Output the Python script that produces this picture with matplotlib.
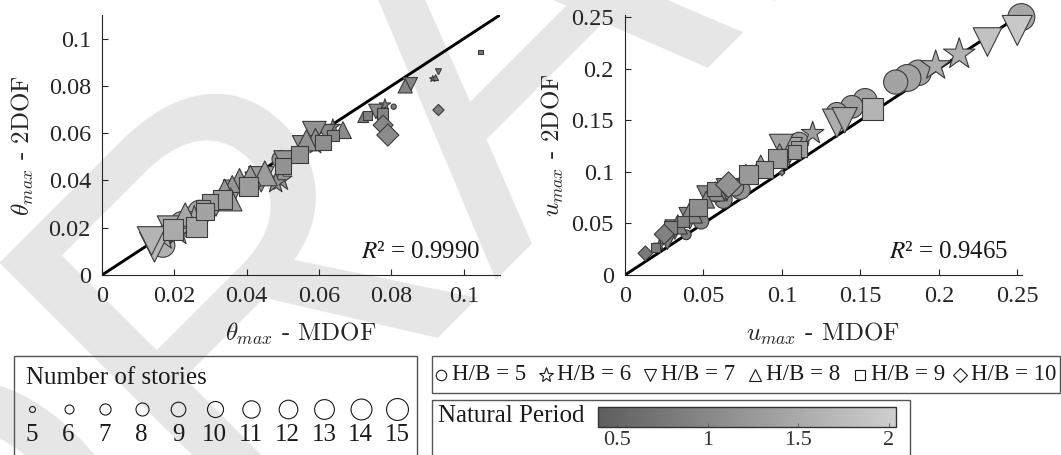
import matplotlib
matplotlib.use('Agg')
import matplotlib.pyplot as plt
import matplotlib.patches as mpatches
from matplotlib.colors import LinearSegmentedColormap, Normalize
from matplotlib.ticker import FuncFormatter
from matplotlib.colorbar import ColorbarBase

# ---------------- data ----------------
# left panel: maximum drift ratio theta
theta_mdof = [0.1046, 0.0930, 0.0914, 0.0922, 0.0930, 0.0838, 0.0852, 0.0782, 0.0806, 0.0757,
              0.0722, 0.0733, 0.0722, 0.0775, 0.0777, 0.0790, 0.0638, 0.0666, 0.0638, 0.0620,
              0.0587, 0.0590, 0.0610, 0.0590, 0.0559, 0.0545, 0.0494, 0.0505, 0.0500, 0.0494,
              0.0480, 0.0450, 0.0410, 0.0380, 0.0405, 0.0425, 0.0360, 0.0365, 0.0339, 0.0333,
              0.0355, 0.0298, 0.0280, 0.0270, 0.0243, 0.0261, 0.0285, 0.0230, 0.0190, 0.0196,
              0.0145, 0.0168, 0.0168, 0.0137, 0.0210, 0.0315, 0.0565, 0.0220, 0.0255, 0.0440,
              0.0355]
theta_2dof = [0.0944, 0.0860, 0.0830, 0.0835, 0.0698, 0.0800, 0.0805, 0.0720, 0.0712, 0.0692,
              0.0668, 0.0675, 0.0660, 0.0683, 0.0634, 0.0592, 0.0627, 0.0613, 0.0590, 0.0600,
              0.0600, 0.0580, 0.0560, 0.0549, 0.0540, 0.0510, 0.0490, 0.0480, 0.0460, 0.0403,
              0.0389, 0.0430, 0.0420, 0.0410, 0.0375, 0.0390, 0.0385, 0.0356, 0.0365, 0.0320,
              0.0320, 0.0308, 0.0290, 0.0265, 0.0214, 0.0204, 0.0270, 0.0256, 0.0193, 0.0193,
              0.0118, 0.0164, 0.0126, 0.0144, 0.0180, 0.0290, 0.0570, 0.0220, 0.0240, 0.0405,
              0.0345]
theta_hb = [9, 7, 6, 8, 10, 8, 7, 6, 5, 7,
            8, 9, 6, 9, 10, 10, 6, 8, 9, 7,
            7, 8, 9, 6, 7, 9, 5, 7, 9, 6,
            6, 8, 8, 8, 9, 7, 8, 7, 8, 9,
            8, 9, 9, 5, 5, 9, 9, 8, 7, 9,
            7, 6, 5, 7, 6, 7, 8, 5, 6, 7,
            6]
theta_stories = [5, 5, 5, 5, 6, 7, 7, 6, 5, 7,
                 6, 6, 5, 7, 9, 10, 7, 8, 7, 8,
                 11, 9, 9, 8, 11, 10, 9, 10, 9, 10,
                 9, 12, 10, 9, 11, 10, 8, 10, 9, 11,
                 11, 9, 8, 13, 14, 12, 10, 11, 13, 12,
                 15, 13, 13, 14, 12, 9, 10, 12, 11, 12,
                 10]
theta_period = [0.75, 0.80, 0.80, 0.80, 0.85, 0.95, 0.95, 0.90, 0.80, 1.00,
                0.90, 0.90, 0.85, 0.95, 1.00, 1.05, 1.00, 1.05, 1.00, 1.05,
                1.15, 1.10, 1.10, 1.10, 1.20, 1.15, 1.15, 1.20, 1.15, 1.20,
                1.20, 1.30, 1.25, 1.20, 1.30, 1.25, 1.20, 1.30, 1.25, 1.35,
                1.35, 1.30, 1.30, 1.50, 1.55, 1.45, 1.40, 1.45, 1.55, 1.50,
                1.70, 1.60, 1.60, 1.65, 1.50, 1.30, 1.15, 1.50, 1.45, 1.30,
                1.30]

# right panel: maximum roof displacement u
u_mdof = [0.2526, 0.2500, 0.2310, 0.2130, 0.1980, 0.1870, 0.1800, 0.1725, 0.1530, 0.1446,
          0.1350, 0.1577, 0.1350, 0.1400, 0.1196, 0.1000, 0.1110, 0.1050, 0.0995, 0.1110,
          0.0970, 0.0865, 0.0890, 0.0788, 0.0770, 0.0736, 0.0700, 0.0660, 0.0627, 0.0575,
          0.0520, 0.0517, 0.0565, 0.0465, 0.0485, 0.0420, 0.0413, 0.0390, 0.0336, 0.0290,
          0.0317, 0.0250, 0.0270, 0.0194, 0.0130, 0.0220, 0.0370, 0.0580, 0.0450, 0.0610,
          0.0985, 0.1080, 0.0650]
u_2dof = [0.2500, 0.2370, 0.2258, 0.2140, 0.2030, 0.1960, 0.1910, 0.1870, 0.1690, 0.1630,
          0.1570, 0.1610, 0.1470, 0.1500, 0.1375, 0.0990, 0.1290, 0.1210, 0.1250, 0.1220,
          0.1130, 0.1050, 0.1020, 0.0970, 0.0990, 0.0827, 0.0850, 0.0875, 0.0730, 0.0810,
          0.0770, 0.0730, 0.0830, 0.0654, 0.0520, 0.0615, 0.0550, 0.0390, 0.0490, 0.0460,
          0.0440, 0.0394, 0.0330, 0.0270, 0.0210, 0.0290, 0.0520, 0.0770, 0.0590, 0.0800,
          0.1170, 0.1190, 0.0830]
u_hb = [5, 7, 7, 6, 6, 5, 5, 5, 5, 5,
        5, 9, 7, 7, 6, 10, 5, 7, 7, 9,
        9, 8, 9, 9, 8, 5, 5, 10, 5, 8,
        7, 8, 9, 9, 5, 8, 7, 5, 8, 9,
        7, 10, 7, 9, 10, 6, 9, 5, 6, 6,
        8, 9, 7]
u_stories = [15, 15, 14, 15, 14, 14, 15, 13, 13, 12,
             11, 13, 14, 12, 10, 5, 10, 12, 11, 9,
             11, 11, 10, 11, 8, 10, 9, 12, 9, 9,
             9, 8, 8, 10, 8, 11, 10, 6, 9, 8,
             9, 9, 8, 6, 7, 6, 7, 7, 8, 9,
             10, 8, 10]
u_period = [1.45, 1.95, 1.85, 1.60, 1.55, 1.40, 1.40, 1.40, 1.40, 1.35,
            1.35, 1.65, 1.55, 1.50, 1.35, 0.90, 1.30, 1.45, 1.40, 1.35,
            1.30, 1.30, 1.30, 1.25, 1.20, 1.20, 1.20, 1.15, 1.15, 1.10,
            1.10, 1.05, 1.10, 1.10, 1.00, 1.05, 1.00, 0.90, 0.95, 0.95,
            0.95, 0.90, 0.90, 0.85, 0.80, 0.85, 0.95, 1.05, 1.00, 1.10,
            1.30, 1.30, 1.10]

theta_ticks = [0, 0.02, 0.04, 0.06, 0.08, 0.1]
u_ticks = [0, 0.05, 0.1, 0.15, 0.2, 0.25]
legend_stories = [5, 6, 7, 8, 9, 10, 11, 12, 13, 14, 15]
hb_values = [5, 6, 7, 8, 9, 10]
hb_labels = ['H/B = 5', 'H/B = 6', 'H/B = 7', 'H/B = 8', 'H/B = 9', 'H/B = 10']
period_ticks = [0.5, 1, 1.5, 2]
period_range = (0.395, 2.04)

# ---------------- style ----------------
W, H = 1061, 455
SERIF = 'Liberation Serif'
hb_marker = {5: 'o', 6: '*', 7: 'v', 8: '^', 9: 's', 10: 'D'}
hb_scale = {5: 1.0, 6: 1.5, 7: 1.25, 8: 1.2, 9: 0.8, 10: 0.65}
cmap = LinearSegmentedColormap.from_list('tgray', [(0.37, 0.37, 0.37), (0.81, 0.81, 0.81)])
norm = Normalize(*period_range)
EDGE = '#3a3a3a'

fig = plt.figure(figsize=(W / 100, H / 100), dpi=100)

# watermark
fig.text(470 / W, 1 - 70 / H, 'DRAFT', fontsize=380, family='Liberation Sans',
         color='#e6e6e6', rotation=45, ha='center', va='center',
         rotation_mode='anchor', zorder=-10)


def px_axes(x0, y0, x1, y1):
    return [x0 / W, 1 - y1 / H, (x1 - x0) / W, (y1 - y0) / H]


fmt = FuncFormatter(lambda v, p: f'{v:g}')


def panel(rect, xs, ys, hbs, ns, ts, lim, ticks, xlab, ylab, r2, r2x, ylabx):
    ax = fig.add_axes(rect)
    ax.set_facecolor('none')
    ax.plot([0, max(lim)], [0, max(lim)], color='black', lw=2.1, zorder=1)
    for hb in hb_values:
        idx = [i for i, h in enumerate(hbs) if h == hb]
        if not idx:
            continue
        ax.scatter([xs[i] for i in idx], [ys[i] for i in idx],
                   s=[36 * (ns[i] - 4.6) * hb_scale[hb] for i in idx],
                   c=[ts[i] for i in idx], cmap=cmap, norm=norm,
                   marker=hb_marker[hb], edgecolors=EDGE, linewidths=0.8,
                   zorder=2, clip_on=False)
    ax.set_xlim(0, lim[0])
    ax.set_ylim(0, lim[1])
    ax.set_xticks(ticks)
    ax.set_yticks(ticks)
    ax.xaxis.set_major_formatter(fmt)
    ax.yaxis.set_major_formatter(fmt)
    for s in ['top', 'right']:
        ax.spines[s].set_visible(False)
    for s in ['left', 'bottom']:
        ax.spines[s].set_color('#262626')
        ax.spines[s].set_linewidth(0.8)
    ax.tick_params(direction='in', length=4, width=0.8, color='#262626',
                   labelsize=17.5, labelcolor='#262626')
    ax.tick_params(axis='x', pad=8)
    ax.tick_params(axis='y', pad=8)
    for lab in ax.get_xticklabels() + ax.get_yticklabels():
        lab.set_family(SERIF)
    ax.set_xlabel(xlab, fontsize=18, family='cmr10', math_fontfamily='cm', color='#262626')
    ax.set_ylabel(ylab, fontsize=18, family='cmr10', math_fontfamily='cm', color='#262626')
    ax.xaxis.set_label_coords(0.5, -0.225)
    ax.xaxis.label.set_va('center')
    ax.yaxis.set_label_coords(ylabx, 0.5)
    ax.yaxis.label.set_va('center')
    ax.text(r2x, 0.088, r2, transform=ax.transAxes, ha='right', va='center',
            fontsize=18, family=SERIF, math_fontfamily='stix', color='#1a1a1a')
    return ax


panel(px_axes(102, 15, 500, 275), theta_mdof, theta_2dof, theta_hb, theta_stories,
      theta_period, (0.11, 0.11), theta_ticks,
      r'$\theta_{max}$ - MDOF', r'$\theta_{max}$ - 2DOF',
      r'$R$² = 0.9990', 0.95, -0.198)
panel(px_axes(625, 15, 1022, 275), u_mdof, u_2dof, u_hb, u_stories,
      u_period, (0.253, 0.252), u_ticks,
      r'$u_{max}$ - MDOF', r'$u_{max}$ - 2DOF',
      r'$R$² = 0.9465', 0.967, -0.181)

# ---------------- legends (pixel overlay) ----------------
ov = fig.add_axes([0, 0, 1, 1], zorder=5)
ov.set_facecolor('none')
ov.set_xlim(0, W)
ov.set_ylim(H, 0)
ov.axis('off')
BOX = '#555555'

# number of stories box
ov.add_patch(mpatches.Rectangle((14, 356), 403, 140, fill=False, ec=BOX, lw=1.0))
ov.text(26, 378, 'Number of stories', fontsize=18, family=SERIF, va='center', color='#1a1a1a')
for i, n in enumerate(legend_stories):
    x = 32 + 36.5 * i
    d = (44.4 * (n - 4.19)) ** 0.5
    ov.plot([x], [409], marker='o', ms=d * 0.72, mfc='none', mec='#1a1a1a', mew=0.8)
    ov.text(x, 435, str(n), fontsize=18, family=SERIF, ha='center', va='center', color='#1a1a1a')

# H/B box
ov.add_patch(mpatches.Rectangle((432, 356), 628, 37, fill=False, ec=BOX, lw=1.0))
hb_x = [441, 546, 650, 755, 860, 960]
hb_ms = {5: 7.5, 6: 11.0, 7: 9.0, 8: 9.0, 9: 6.5, 10: 7.0}
for hb, x, lab in zip(hb_values, hb_x, hb_labels):
    ov.plot([x], [375], marker=hb_marker[hb], ms=hb_ms[hb], mfc='none', mec='#1a1a1a', mew=0.8)
    ov.text(x + 11, 375, lab, fontsize=16.5, family=SERIF, va='center', color='#1a1a1a')

# natural period box
ov.add_patch(mpatches.Rectangle((432, 400), 478, 140, fill=False, ec=BOX, lw=1.0))
ov.text(438, 416, 'Natural Period', fontsize=18, family=SERIF, va='center', color='#1a1a1a')

cax = fig.add_axes(px_axes(598, 407, 896, 427), zorder=6)
cb = ColorbarBase(cax, cmap=cmap, norm=norm, orientation='horizontal', ticks=period_ticks)
cb.ax.set_xticklabels([f'{t:g}' for t in period_ticks])
cb.outline.set_edgecolor('#333333')
cb.outline.set_linewidth(1.0)
cax.tick_params(direction='in', length=3, width=0.6, color='#555555', labelsize=16, pad=3,
                labelcolor='#333333')
for lab in cax.get_xticklabels():
    lab.set_family(SERIF)

fig.savefig('out.png', dpi=100)
